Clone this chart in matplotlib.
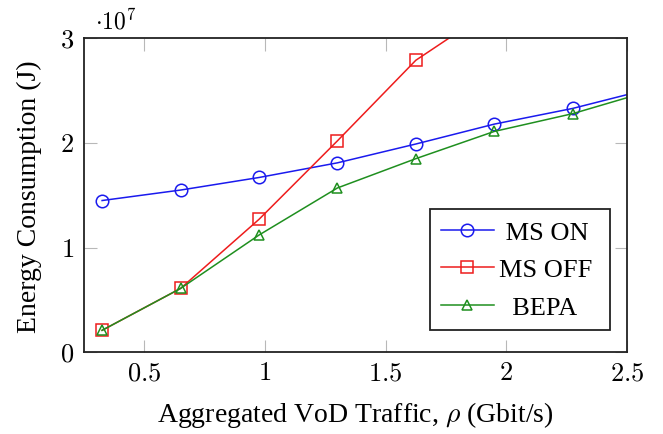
import matplotlib
matplotlib.use("Agg")
import matplotlib.pyplot as plt
from matplotlib.ticker import FuncFormatter, FixedLocator

plt.rcParams['font.family'] = ['Liberation Serif', 'DejaVu Serif']
plt.rcParams['mathtext.fontset'] = 'cm'

# Data (energy in units of 1e7 J)
traffic = [0.325, 0.65, 0.975, 1.3, 1.625, 1.95, 2.275, 2.6]
ms_on = [1.45, 1.55, 1.67, 1.81, 1.99, 2.18, 2.33, 2.52]
ms_off = [0.21, 0.61, 1.27, 2.02, 2.79, 3.29]
bepa = [0.21, 0.61, 1.12, 1.57, 1.85, 2.11, 2.28, 2.50]
scale = 1e7

labels = [" MS ON ", "MS OFF ", "  BEPA  "]
x_ticks = [0.5, 1, 1.5, 2, 2.5]
y_ticks = [0, 1, 2, 3]

fig = plt.figure(figsize=(6.63, 4.35), dpi=100)
ax = fig.add_axes([0.1267, 0.1878, 0.9457 - 0.1267, 0.9097 - 0.1878])

ax.plot(traffic, [v * scale for v in ms_on], color='#1a1aee', lw=1.1,
        marker='o', ms=9, mfc='none', mew=1.1, label=labels[0])
ax.plot(traffic[:len(ms_off)], [v * scale for v in ms_off], color='#ee1c1c', lw=1.1,
        marker='s', ms=8.5, mfc='none', mew=1.1, label=labels[1])
ax.plot(traffic, [v * scale for v in bepa], color='#1f8f1f', lw=1.1,
        marker='^', ms=7.5, mfc='none', mew=1.1, label=labels[2])

ax.set_xlim(0.25, 2.5)
ax.set_ylim(0, 3 * scale)
ax.xaxis.set_major_locator(FixedLocator(x_ticks))
ax.yaxis.set_major_locator(FixedLocator([v * scale for v in y_ticks]))
ax.xaxis.set_major_formatter(FuncFormatter(lambda v, p: f"${v:g}$"))
ax.yaxis.set_major_formatter(FuncFormatter(lambda v, p: f"${v / scale:g}$"))

ax.tick_params(direction='in', length=9, width=0.8, color='#b8b8b8',
               top=True, right=True, labelsize=19, pad=7)
for sp in ax.spines.values():
    sp.set_linewidth(1.3)
    sp.set_color('#222222')

ax.text(0.02, 1.015, r"$\cdot 10^7$", transform=ax.transAxes, fontsize=17,
        ha='left', va='bottom')

ax.set_xlabel(r"Aggregated VoD Traffic, $\rho$ (Gbit/s)", fontsize=20, labelpad=11)
ax.set_ylabel("Energy Consumption (J)", fontsize=20, labelpad=13)

leg = ax.legend(loc='lower right', bbox_to_anchor=(0.9687, 0.071), borderaxespad=0,
                fontsize=19, fancybox=False, edgecolor='#222222', framealpha=1,
                handlelength=2.0, handletextpad=0.2, labelspacing=0.53,
                borderpad=0.42)
leg.get_frame().set_linewidth(1.3)

fig.savefig("out.png", dpi=100)
